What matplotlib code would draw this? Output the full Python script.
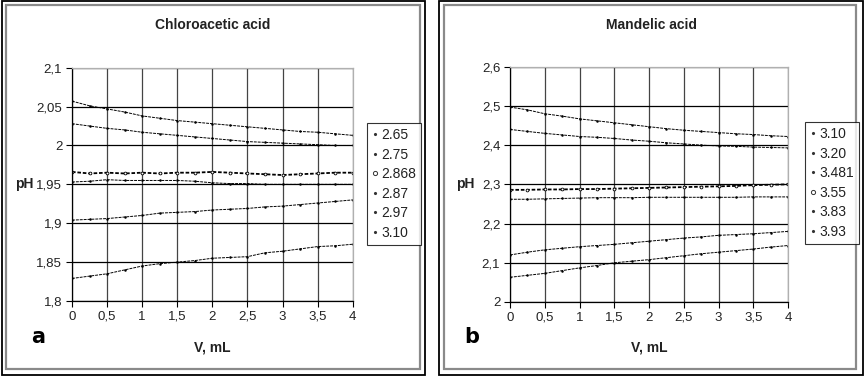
import matplotlib
matplotlib.use("Agg")
import matplotlib.pyplot as plt
from matplotlib.lines import Line2D
from matplotlib.patches import Rectangle

# ---------------- data ----------------
v_ml = [0, 0.25, 0.5, 0.75, 1.0, 1.25, 1.5, 1.75, 2.0, 2.25, 2.5, 2.75, 3.0, 3.25, 3.5, 3.75, 4.0]

chloro_labels = ["2.65", "2.75", "2.868", "2.87", "2.97", "3.10"]
chloro_265 = [2.057, 2.051, 2.047, 2.043, 2.038, 2.035, 2.032, 2.030, 2.028, 2.026, 2.024, 2.022, 2.020, 2.018, 2.017, 2.015, 2.013]
chloro_275 = [2.028, 2.025, 2.022, 2.020, 2.017, 2.015, 2.013, 2.011, 2.009, 2.007, 2.005, 2.004, 2.003, 2.002, 2.001, 2.000, 2.000]
chloro_2868 = [1.966, 1.964, 1.965, 1.964, 1.965, 1.964, 1.965, 1.965, 1.966, 1.965, 1.964, 1.963, 1.962, 1.963, 1.964, 1.965, 1.965]
chloro_287 = [1.953, 1.954, 1.956, 1.955, 1.955, 1.955, 1.955, 1.954, 1.952, 1.951, 1.951, 1.950, 1.950, 1.950, 1.950, 1.950, 1.950]
chloro_297 = [1.904, 1.905, 1.906, 1.908, 1.910, 1.913, 1.914, 1.915, 1.917, 1.918, 1.919, 1.921, 1.922, 1.924, 1.926, 1.928, 1.930]
chloro_310 = [1.829, 1.832, 1.835, 1.840, 1.845, 1.848, 1.850, 1.852, 1.855, 1.856, 1.857, 1.862, 1.864, 1.867, 1.870, 1.871, 1.873]

mand_labels = ["3.10", "3.20", "3.481", "3.55", "3.83", "3.93"]
mand_310 = [2.497, 2.490, 2.480, 2.474, 2.467, 2.462, 2.457, 2.452, 2.447, 2.442, 2.438, 2.435, 2.432, 2.429, 2.427, 2.424, 2.422]
mand_320 = [2.440, 2.435, 2.430, 2.426, 2.422, 2.420, 2.417, 2.413, 2.410, 2.406, 2.403, 2.400, 2.398, 2.397, 2.395, 2.394, 2.393]
mand_3481 = [2.262, 2.262, 2.263, 2.264, 2.265, 2.266, 2.266, 2.266, 2.267, 2.267, 2.267, 2.267, 2.267, 2.267, 2.268, 2.268, 2.268]
mand_355 = [2.286, 2.286, 2.287, 2.287, 2.288, 2.288, 2.289, 2.290, 2.291, 2.292, 2.293, 2.294, 2.295, 2.296, 2.298, 2.299, 2.300]
mand_383 = [2.120, 2.127, 2.133, 2.137, 2.141, 2.144, 2.147, 2.151, 2.155, 2.159, 2.163, 2.166, 2.170, 2.172, 2.174, 2.177, 2.180]
mand_393 = [2.063, 2.068, 2.073, 2.080, 2.087, 2.093, 2.100, 2.104, 2.108, 2.113, 2.118, 2.123, 2.127, 2.131, 2.135, 2.140, 2.144]

x_ticks = [0, 0.5, 1, 1.5, 2, 2.5, 3, 3.5, 4]
x_ticklabels = ["0", "0,5", "1", "1,5", "2", "2,5", "3", "3,5", "4"]
chloro_yticks = [1.8, 1.85, 1.9, 1.95, 2.0, 2.05, 2.1]
chloro_yticklabels = ["1,8", "1,85", "1,9", "1,95", "2", "2,05", "2,1"]
mand_yticks = [2.0, 2.1, 2.2, 2.3, 2.4, 2.5, 2.6]
mand_yticklabels = ["2", "2,1", "2,2", "2,3", "2,4", "2,5", "2,6"]

# ---------------- figure ----------------
W, H = 865, 376
plt.rcParams["font.family"] = ["Liberation Sans", "DejaVu Sans"]
fig = plt.figure(figsize=(W / 100, H / 100), dpi=100)
FS = 10
TFS = 9.5


def fx(px):
    return px / W


def fy(py):
    return 1 - py / H


def frame(x0, y0, x1, y1, color, lw):
    fig.patches.append(Rectangle((fx(x0), fy(y1)), fx(x1) - fx(x0), fy(y0) - fy(y1),
                                 transform=fig.transFigure, fill=False,
                                 edgecolor=color, linewidth=lw, zorder=0))


# panel frames
frame(1.5, 0.8, 425, 375, "black", 1.3)
frame(6, 5, 420, 369, "#8a8a8a", 1.6)
frame(439, 0.8, 862.5, 375, "black", 1.3)
frame(443.5, 5, 855.5, 369, "#8a8a8a", 1.6)


def make_panel(rect, series, labels, circle_idx, yticks, yticklabels, ylim,
               title, title_x, letter, letter_x, ph_x, leg_center):
    ax = fig.add_axes(rect)
    handles = []
    for i, (vals, lab) in enumerate(zip(series, labels)):
        if i == circle_idx:
            ax.plot(v_ml, vals, color="black", lw=1.3, marker="o", ms=2.0,
                    mfc="white", mec="black", mew=0.6, ls=(0, (2, 1)))
            h = Line2D([], [], ls="none", marker="o", ms=3, mfc="white", mec="#333", mew=0.7)
        else:
            ax.plot(v_ml, vals, color="black", lw=0.7, marker=".", ms=1.6, ls=(0, (3, 1)))
            h = Line2D([], [], ls="none", marker=".", ms=2.5, color="#333")
        handles.append(h)
    ax.set_xlim(0, 4)
    ax.set_ylim(*ylim)
    ax.set_xticks(x_ticks)
    ax.set_xticklabels(x_ticklabels)
    ax.set_yticks(yticks)
    ax.set_yticklabels(yticklabels)
    ax.tick_params(direction="out", length=4, width=0.8, labelsize=TFS, pad=3, colors="black")
    for t in ax.get_xticklabels() + ax.get_yticklabels():
        t.set_color("#222222")
    ax.grid(True, axis="y", color="black", lw=0.9)
    ax.grid(True, axis="x", color="#444444", lw=0.9)
    ax.set_axisbelow(True)
    for s in ("left", "bottom"):
        ax.spines[s].set_color("black")
        ax.spines[s].set_linewidth(0.9)
    for s in ("top", "right"):
        ax.spines[s].set_color("#b0b0b0")
        ax.spines[s].set_linewidth(0.9)
    fig.text(fx(title_x), fy(25), title, ha="center", va="center",
             fontsize=FS, fontweight="bold", color="#222222")
    fig.text(fx(ph_x), fy(184), "pH", ha="center", va="center",
             fontsize=FS, fontweight="bold", color="#222222")
    fig.text(fx((rect[0] + rect[2] / 2) * W), fy(348), "V, mL", ha="center", va="center",
             fontsize=FS, fontweight="bold", color="#222222")
    fig.text(fx(letter_x), fy(337), letter, ha="center", va="center",
             fontsize=15, fontweight="bold", family="DejaVu Sans")
    leg = fig.legend(handles, labels, loc="center", bbox_to_anchor=leg_center,
                     bbox_transform=fig.transFigure, frameon=True, fancybox=False,
                     edgecolor="black", fontsize=FS, handlelength=0.4,
                     handletextpad=0.25, labelspacing=0.4, borderpad=0.35,
                     borderaxespad=0)
    leg.get_frame().set_linewidth(0.8)
    for t in leg.get_texts():
        t.set_color("#222222")
    return ax


make_panel([fx(72), fy(301), fx(352.7) - fx(72), fy(67.7) - fy(301)],
           [chloro_265, chloro_275, chloro_2868, chloro_287, chloro_297, chloro_310],
           chloro_labels, 2, chloro_yticks, chloro_yticklabels, (1.8, 2.1),
           "Chloroacetic acid", 213, "a", 38, 24,
           (fx(394), fy(184)))

make_panel([fx(510), fy(302), fx(788) - fx(510), fy(66.7) - fy(302)],
           [mand_310, mand_320, mand_3481, mand_355, mand_383, mand_393],
           mand_labels, 3, mand_yticks, mand_yticklabels, (2.0, 2.6),
           "Mandelic acid", 651, "b", 472, 465,
           (fx(832), fy(183)))

fig.savefig("out.png", dpi=100)
